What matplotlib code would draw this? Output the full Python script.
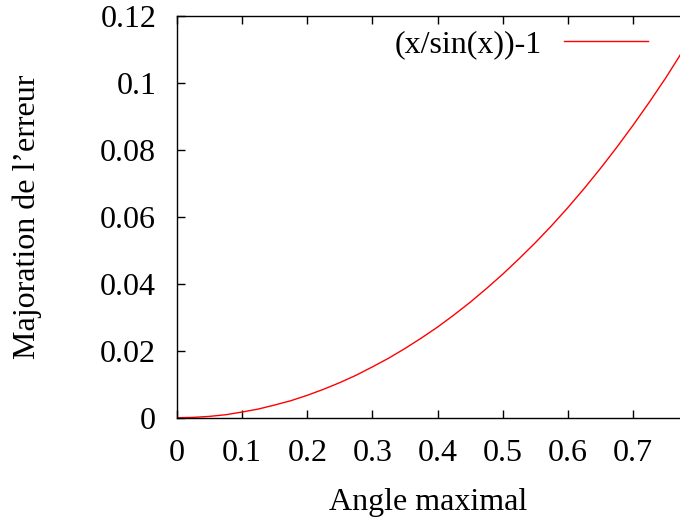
import matplotlib
matplotlib.use("Agg")
import matplotlib.pyplot as plt

# valeurs
angle = [0.0, 0.025, 0.05, 0.075, 0.10, 0.125, 0.15, 0.175, 0.20, 0.225,
         0.25, 0.275, 0.30, 0.325, 0.35, 0.375, 0.40, 0.425, 0.45, 0.475,
         0.50, 0.525, 0.55, 0.575, 0.60, 0.625, 0.65, 0.675, 0.70, 0.725,
         0.75, 0.775]
erreur = [0.0, 0.0001, 0.0004, 0.0009, 0.0017, 0.0026, 0.0038, 0.0051,
          0.0067, 0.0085, 0.0105, 0.0127, 0.0152, 0.0178, 0.0207, 0.0238,
          0.0271, 0.0307, 0.0345, 0.0386, 0.0429, 0.0475, 0.0523, 0.0574,
          0.0628, 0.0685, 0.0745, 0.0808, 0.0874, 0.0943, 0.1015, 0.1092]
xticks = [0, 0.1, 0.2, 0.3, 0.4, 0.5, 0.6, 0.7]
yticks = [0, 0.02, 0.04, 0.06, 0.08, 0.1, 0.12]
yticklabels = ["0", "0.02", "0.04", "0.06", "0.08", "0.1", "0.12"]

plt.rcParams['font.family'] = ['Liberation Serif', 'DejaVu Serif']
FS = 23

fig = plt.figure(figsize=(6.8, 5.18), dpi=100)
ax = fig.add_axes([0.2603, 0.1936, 0.7397, 0.7747])
ax.plot(angle, erreur, color='#ff0000', lw=1.0, label='(x/sin(x))-1')

ax.set_xlim(0, 0.7723)
ax.set_ylim(0, 0.12)
ax.set_xticks(xticks)
ax.set_xticklabels(["0"] + [f"{t:g}" for t in xticks[1:]])
ax.set_yticks(yticks)
ax.set_yticklabels(yticklabels)
ax.tick_params(direction='in', top=True, right=False, length=6, width=1,
               labelsize=FS)
ax.tick_params(axis='y', pad=15)
ax.tick_params(axis='x', pad=15)
for s in ['left', 'bottom', 'top']:
    ax.spines[s].set_linewidth(1.0)
ax.spines['right'].set_visible(False)

ax.set_xlabel('Angle maximal', fontsize=FS, labelpad=15)
ax.set_ylabel('Majoration de l\u2019erreur', fontsize=FS, labelpad=42)

leg = ax.legend(loc='upper right', fontsize=FS, frameon=False,
                markerfirst=False, handlelength=2.63, handletextpad=0.69,
                borderpad=0.3, borderaxespad=0.0, bbox_to_anchor=(0.956, 0.99))

fig.savefig('out.png', dpi=100)
